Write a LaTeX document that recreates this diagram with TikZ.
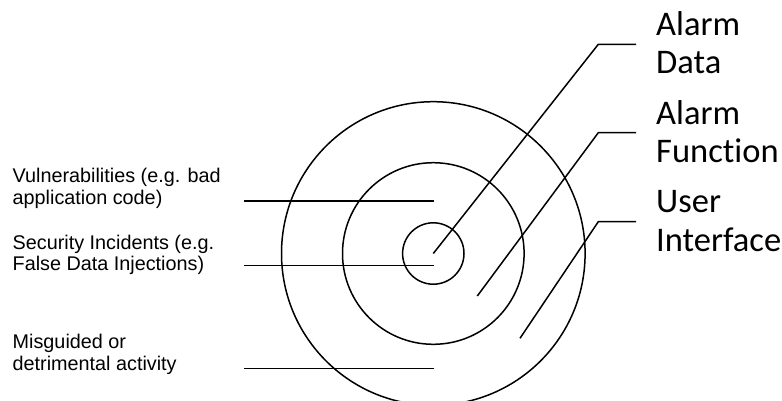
\documentclass[tikz,border=0pt]{standalone}
\usepackage{fontspec}
\setmainfont{Liberation Sans}
\newfontfamily\calibri[Ligatures=NoCommon]{Carlito}
\usetikzlibrary{calc,positioning}
\newlength{\ringwidth}
\setlength{\ringwidth}{1.5pt}
\tikzset{
  ring/.style={
    draw=black,
    line width=\ringwidth,
    circle,
    inner sep=0pt,
    outer sep=0pt
  },
  threat/.style={font=\fontsize{19.8}{21.7}\selectfont, inner sep=0pt, anchor=base west, align=left},
  layer/.style={font=\calibri\fontsize{34.5}{38.5}\selectfont, inner sep=0pt, anchor=base west, align=left},
  leader/.style={draw=black, line width=\ringwidth},
}
\begin{document}
\begin{tikzpicture}[x=1pt,y=-1pt]
  \useasboundingbox (0,0) rectangle (782,400);
  % the three rings
  \node[ring, minimum size=303.6pt] (outer) at (433.3,253.5) {};
  \node[ring, minimum size=181.6pt] (middle) at (outer.center) {};
  \node[ring, minimum size=61.4pt] (core) at (outer.center) {};

  % threats on the left (base = last line)
  \node[threat] (vuln) at (12.5,204.3) {Vulnerabilities (e.g. bad\\application code)};
  \node[threat] (incid) at (12.5,270.7) {Security Incidents (e.g.\\False Data Injections)};
  \node[threat] (misuse) at (12.5,370) {Misguided or\\detrimental activity};
  \coordinate (vulnA) at (244,201);
  \coordinate (vulnB) at (434.3,201);
  \coordinate (incidA) at (244,265.3);
  \coordinate (incidB) at (434.3,265.3);
  \coordinate (misuseA) at (244,368.3);
  \coordinate (misuseB) at (434.3,368.3);
  \foreach \t in {vuln,incid,misuse}
    \draw[leader] (\t A) -- (\t B);

  % layers on the right
  \node[layer] (data) at (656,73.5) {Alarm\\Data};
  \node[layer] (func) at (656,162.7) {Alarm\\Function};
  \node[layer] (ui) at (656,251) {User\\Interface};
  \coordinate (dataP) at (outer.center);
  \coordinate (dataK) at (598.3,44.3);
  \coordinate (dataE) at (636,44.3);
  \coordinate (funcP) at (477.3,296);
  \coordinate (funcK) at (598.3,132.7);
  \coordinate (funcE) at (636,132.7);
  \coordinate (uiP) at (520,338.3);
  \coordinate (uiK) at (598.3,221.7);
  \coordinate (uiE) at (636,221.7);
  \foreach \l in {data,func,ui}
    \draw[leader] (\l P) -- (\l K) -- (\l E);
\end{tikzpicture}
\end{document}
